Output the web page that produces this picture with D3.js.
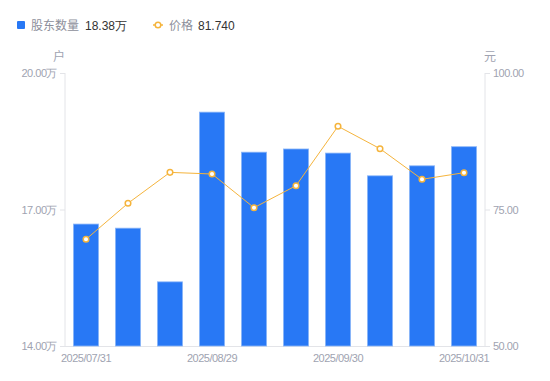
<!DOCTYPE html>
<html><head><meta charset="utf-8">
<script src="https://cdn.jsdelivr.net/npm/d3@7"></script>
<style>body{margin:0;background:#fff;font-family:"Noto Sans CJK SC","Noto Sans",sans-serif;}</style>
</head><body><svg id="c" width="550" height="381"></svg>
<script>
const dates = ["2025/07/31","2025/08/08","2025/08/15","2025/08/29","2025/09/05","2025/09/12","2025/09/30","2025/10/10","2025/10/20","2025/10/31"];
const holders = [16.68,16.59,15.41,19.14,18.26,18.33,18.24,17.74,17.96,18.38];
const prices = [69.54,76.14,81.8,81.5,75.33,79.36,90.24,86.14,80.53,81.74];
const xTickLabels = ["2025/07/31","2025/08/29","2025/09/30","2025/10/31"];
const leftTicks = [14,17,20];
const rightTicks = [50,75,100];

const svg = d3.select("#c");
const L = 65, R = 485, T = 73, B = 346;
const x = d3.scaleBand().domain(dates).range([L, R]).paddingInner(0.4).paddingOuter(0.2);
const yL = d3.scaleLinear().domain([14,20]).range([B, T]);
const yR = d3.scaleLinear().domain([50,100]).range([B, T]);
const axisCol = "#e3e4e8", labCol = "#a0a3b1";
const numFont = "Liberation Sans, Arial, sans-serif";

function styleTicks(g){
  g.select(".domain").remove();
  g.selectAll(".tick line").attr("stroke",axisCol);
  g.selectAll(".tick text").attr("fill",labCol).style("font-size","11px")
    .style("letter-spacing","-0.5px").style("font-family",numFont);
}
svg.append("g").attr("transform",`translate(${L},0)`)
  .call(d3.axisLeft(yL).tickValues(leftTicks).tickSize(5).tickPadding(3).tickFormat(d=>d3.format(".2f")(d)+"万"))
  .call(styleTicks);
svg.append("g").attr("transform",`translate(${R},0)`)
  .call(d3.axisRight(yR).tickValues(rightTicks).tickSize(5).tickPadding(3).tickFormat(d3.format(".2f")))
  .call(styleTicks);
svg.append("line").attr("x1",L).attr("x2",L).attr("y1",T).attr("y2",B).attr("stroke",axisCol);
svg.append("line").attr("x1",R).attr("x2",R).attr("y1",T).attr("y2",B).attr("stroke",axisCol);
svg.append("line").attr("x1",L).attr("x2",R).attr("y1",B+0.5).attr("y2",B+0.5).attr("stroke",axisCol);

// unit labels
svg.append("text").attr("x",59).attr("y",61).attr("text-anchor","middle").attr("fill",labCol).style("font-size","12px").text("户");
svg.append("text").attr("x",490).attr("y",61).attr("text-anchor","middle").attr("fill",labCol).style("font-size","12px").text("元");

// x labels
svg.append("g").attr("transform",`translate(0,${B})`)
  .call(d3.axisBottom(x).tickValues(xTickLabels).tickSize(0).tickPadding(8))
  .call(styleTicks);

// bars
svg.append("g").selectAll("rect").data(holders).join("rect")
  .attr("x",(d,i)=>x(dates[i])).attr("width",x.bandwidth())
  .attr("y",d=>yL(d)).attr("height",d=>B-yL(d))
  .attr("fill","#2878f5").attr("stroke","#8db7f8").attr("stroke-width",0.8);

// line
const lineCol = "#f5b43c";
svg.append("path").datum(prices)
  .attr("d", d3.line().x((d,i)=>x(dates[i])+x.bandwidth()/2).y(d=>yR(d)))
  .attr("fill","none").attr("stroke",lineCol).attr("stroke-width",1);
svg.append("g").selectAll("circle").data(prices).join("circle")
  .attr("cx",(d,i)=>x(dates[i])+x.bandwidth()/2).attr("cy",d=>yR(d)).attr("r",2.8)
  .attr("fill","#fff").attr("stroke",lineCol).attr("stroke-width",1.5);

// legend
const lg = svg.append("g");
lg.append("rect").attr("x",17).attr("y",21).attr("width",8).attr("height",8).attr("rx",1).attr("fill","#2878f5");
lg.append("text").attr("x",31).attr("y",29.5).attr("fill","#8d8f9b").style("font-size","12px").text("股东数量");
lg.append("text").attr("x",85).attr("y",29.5).attr("fill","#333").style("font-size","12px").style("font-family",numFont).text(d3.format(".2f")(holders[holders.length-1])+"万");
lg.append("line").attr("x1",153).attr("x2",163).attr("y1",25).attr("y2",25).attr("stroke",lineCol).attr("stroke-width",1.5);
lg.append("circle").attr("cx",158).attr("cy",25).attr("r",2.8).attr("fill","#fff").attr("stroke",lineCol).attr("stroke-width",1.5);
lg.append("text").attr("x",169).attr("y",29.5).attr("fill","#8d8f9b").style("font-size","12px").text("价格");
lg.append("text").attr("x",198).attr("y",29.5).attr("fill","#333").style("font-size","12px").style("font-family",numFont).text(d3.format(".3f")(prices[prices.length-1]));
</script></body></html>
